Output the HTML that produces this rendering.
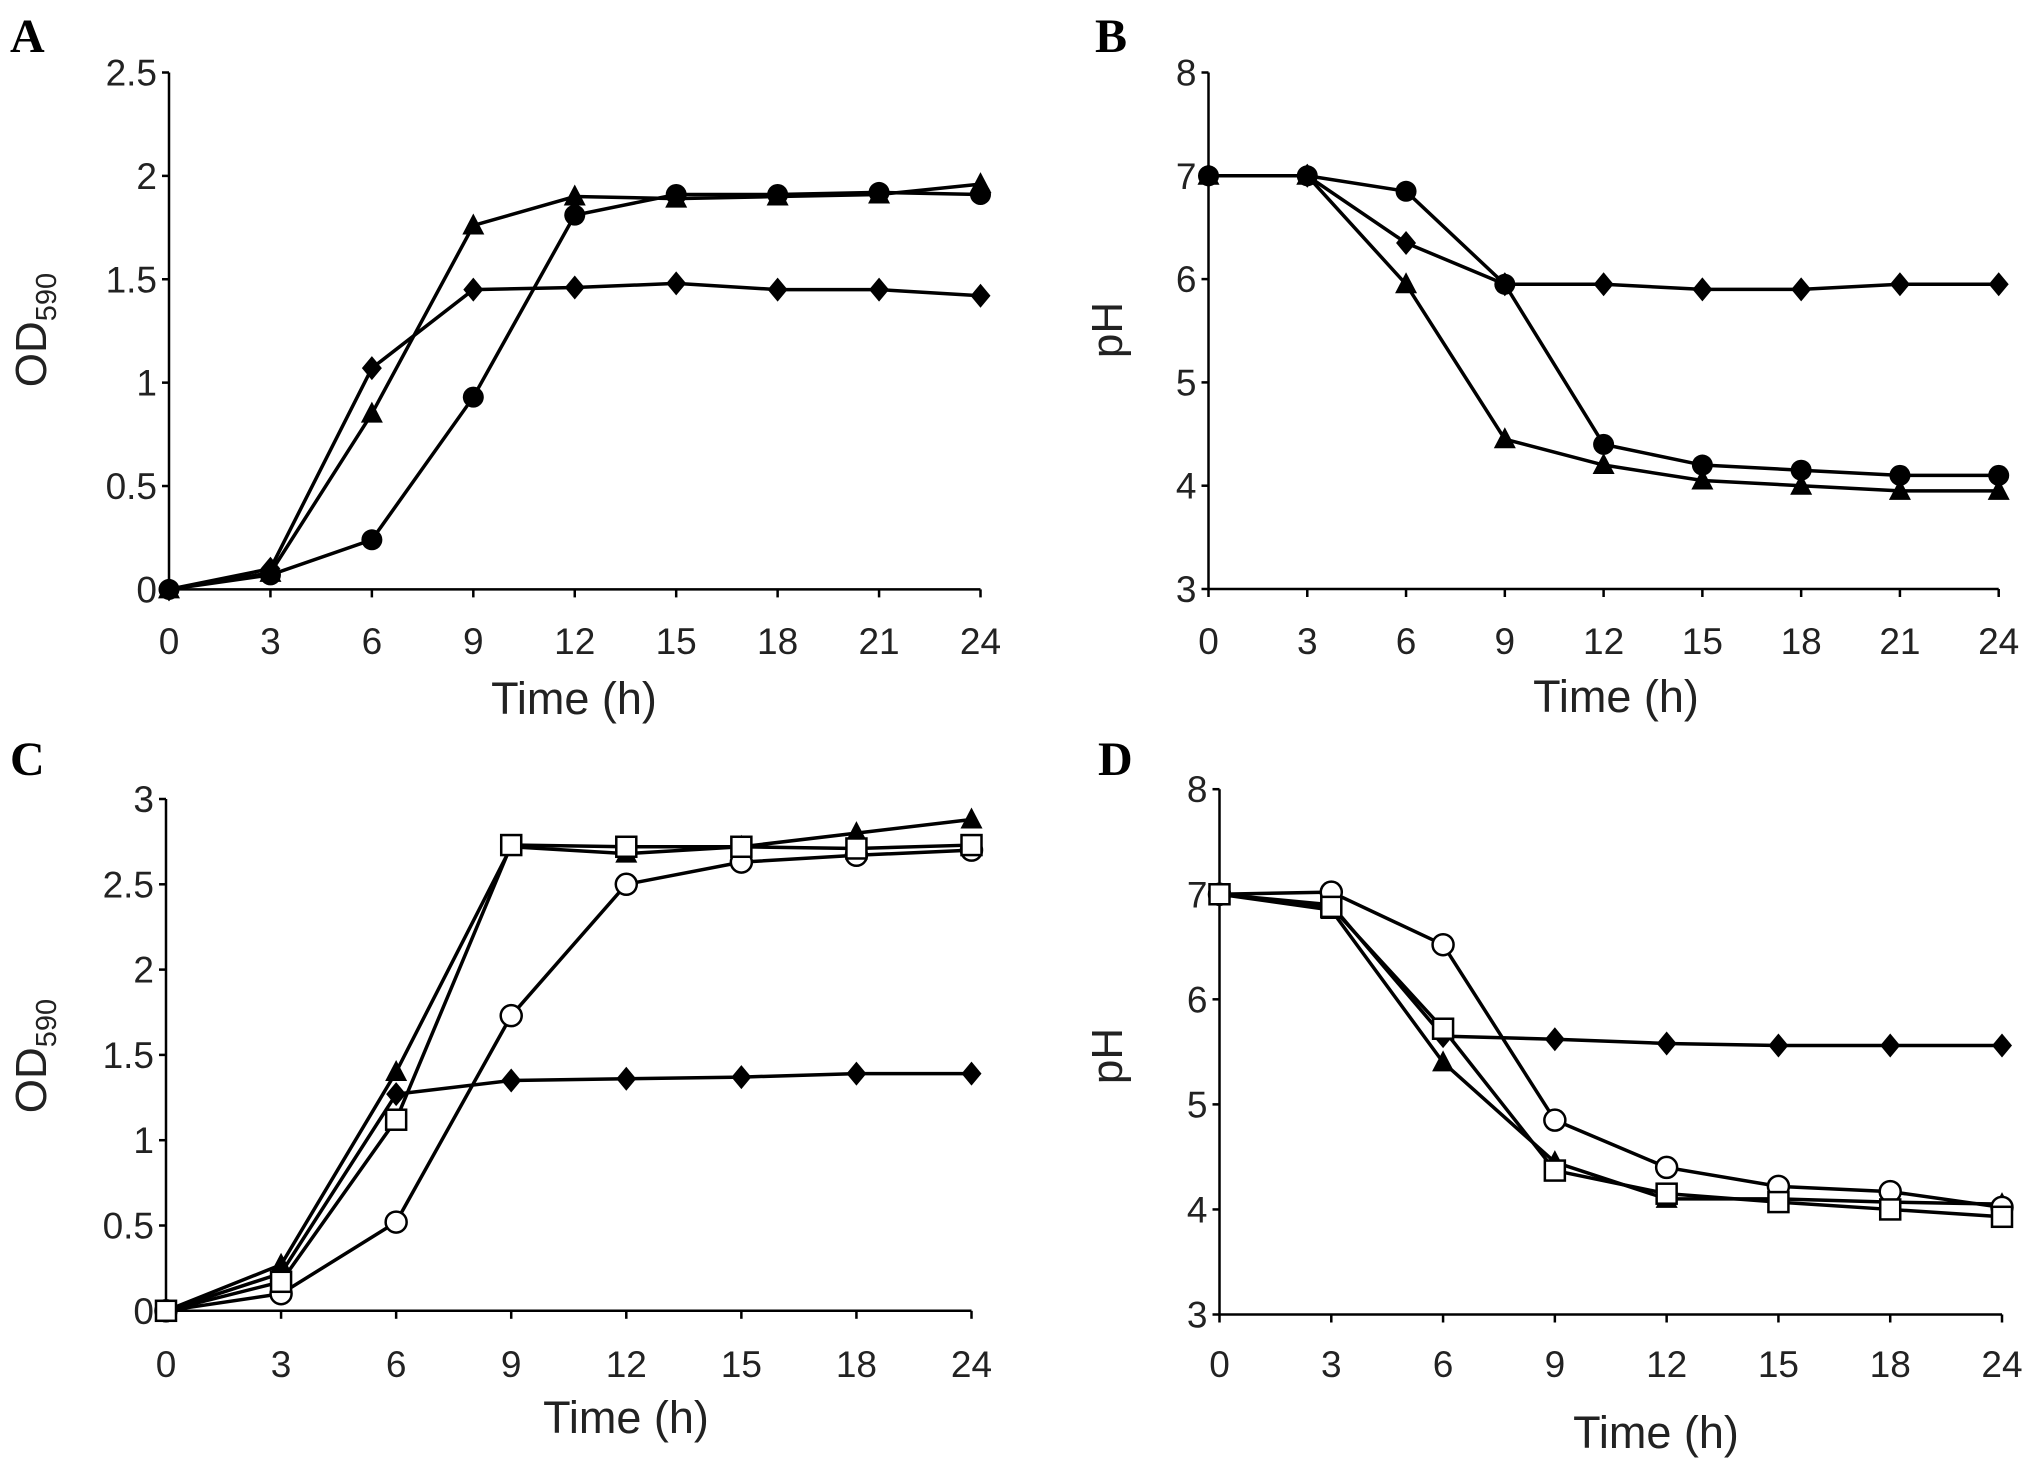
<!DOCTYPE html>
<html><head><meta charset="utf-8"><style>
body{margin:0;background:#fff}
svg{display:block;font-family:"Liberation Sans",Arial,sans-serif}
</style></head><body>
<svg id="fig" width="2031" height="1469" viewBox="0 0 2031 1469" xmlns="http://www.w3.org/2000/svg"></svg>
<script>
const aDiamond=[0,0.1,1.07,1.45,1.46,1.48,1.45,1.45,1.42];
const aTriangle=[0,0.08,0.85,1.76,1.9,1.89,1.9,1.91,1.96];
const aCircle=[0,0.07,0.24,0.93,1.81,1.91,1.91,1.92,1.91];
const bDiamond=[7,7,6.35,5.95,5.95,5.9,5.9,5.95,5.95];
const bCircle=[7,7,6.85,5.95,4.4,4.2,4.15,4.1,4.1];
const bTriangle=[7,7,5.95,4.45,4.2,4.05,4.0,3.95,3.95];
const cDiamond=[0,0.22,1.27,1.35,1.36,1.37,1.39,1.39];
const cTriangle=[0,0.27,1.4,2.72,2.68,2.72,2.8,2.88];
const cSquare=[0,0.17,1.12,2.73,2.72,2.72,2.71,2.73];
const cCircle=[0,0.1,0.52,1.73,2.5,2.63,2.67,2.7];
const dDiamond=[7,6.9,5.65,5.62,5.58,5.56,5.56,5.56];
const dCircle=[7,7.02,6.52,4.85,4.4,4.22,4.17,4.02];
const dTriangle=[7,6.85,5.4,4.45,4.1,4.1,4.07,4.05];
const dSquare=[7,6.88,5.72,4.37,4.15,4.07,4.0,3.93];
const xLabels9=["0","3","6","9","12","15","18","21","24"];
const xLabels8=["0","3","6","9","12","15","18","24"];
const odTicks25=["0","0.5","1","1.5","2","2.5"];
const odTicks3=["0","0.5","1","1.5","2","2.5","3"];
const phTicks=["3","4","5","6","7","8"];

const NS="http://www.w3.org/2000/svg";
const svg=document.getElementById('fig');
function el(tag,attrs,parent,text){const e=document.createElementNS(NS,tag);for(const k in attrs)e.setAttribute(k,attrs[k]);if(text!==undefined)e.textContent=text;(parent||svg).appendChild(e);return e;}

function panel(p){
  const g=el('g',{});
  
  
  const n=p.xl.length;
  const X=i=>p.x0+(p.x1-p.x0)*i/(n-1);
  const Y=v=>p.yb+(p.yt-p.yb)*(v-p.ymin)/(p.ymax-p.ymin);
  const lt=el('text',{x:p.lx,y:p.ly,'font-family':'"Liberation Serif",serif','font-weight':'bold','font-size':48},g,p.id);
  
  
  const ax=el('path',{d:`M${p.x0},${p.yt} V${p.yb} H${p.x1}`,stroke:'#000','stroke-width':2.5,fill:'none'},g);
  
  
  p.yl.forEach((t,i)=>{
    const v=p.ymin+(p.ymax-p.ymin)*i/(p.yl.length-1);const y=Y(v);
    el('line',{x1:p.x0-7,x2:p.x0,y1:y,y2:y,stroke:'#000','stroke-width':2.5},g);
    const tx=el('text',{x:p.x0-12,y:y+13,'text-anchor':'end','font-size':37,fill:'#222'},g,t);
    
    
  });
  p.xl.forEach((t,i)=>{
    const x=X(i);
    el('line',{x1:x,x2:x,y1:p.yb,y2:p.yb+8,stroke:'#000','stroke-width':2.5},g);
    const tx=el('text',{x:x,y:p.tly,'text-anchor':'middle','font-size':37,fill:'#222'},g,t);
    
    
  });
  const xt=el('text',{x:p.xtx,y:p.xty,'text-anchor':'middle','font-size':45,fill:'#222'},g,'Time (h)');
  
  
  const yt=el('text',{transform:`translate(${p.ytx},${p.yty}) rotate(-90)`,'text-anchor':'middle','font-size':44,fill:'#222'},g);
  
  
  if(p.od){el('tspan',{},yt,'OD');el('tspan',{'font-size':29,dy:10},yt,'590');}else yt.textContent='pH';
  p.series.forEach(s=>{
    const sg=el('g',{},g);
    
    
    el('polyline',{points:s.d.map((v,i)=>X(i)+','+Y(v)).join(' '),fill:'none',stroke:'#000','stroke-width':3.5},sg);
    s.d.forEach((v,i)=>{
      const x=X(i),y=Y(v);let m;
      if(s.m==='diamond')m=el('polygon',{points:`${x},${y-12} ${x+10},${y} ${x},${y+12} ${x-10},${y}`,fill:'#000'},sg);
      else if(s.m==='triangle')m=el('polygon',{points:`${x},${y-12} ${x+11},${y+9} ${x-11},${y+9}`,fill:'#000'},sg);
      else if(s.m==='circle')m=el('circle',{cx:x,cy:y,r:10.5,fill:'#000'},sg);
      else if(s.m==='ocircle')m=el('circle',{cx:x,cy:y,r:10.5,fill:'#fff',stroke:'#000','stroke-width':2.5},sg);
      else m=el('rect',{x:x-10,y:y-10,width:20,height:20,fill:'#fff',stroke:'#000','stroke-width':2.5},sg);
      
      
    });
  });
}
panel({id:'A',x0:169,x1:980.5,yb:589.4,yt:72.5,ymin:0,ymax:2.5,yl:odTicks25,xl:xLabels9,tly:654,xtx:574,xty:714,ytx:46,yty:330,lx:10,ly:52,od:true,
  series:[{m:'diamond',d:aDiamond},{m:'triangle',d:aTriangle},{m:'circle',d:aCircle}]});
panel({id:'B',x0:1208.5,x1:1998.7,yb:589,yt:72.5,ymin:3,ymax:8,yl:phTicks,xl:xLabels9,tly:654,xtx:1616,xty:712,ytx:1122,yty:330,lx:1095,ly:52,od:false,
  series:[{m:'diamond',d:bDiamond},{m:'circle',d:bCircle},{m:'triangle',d:bTriangle}]});
panel({id:'C',x0:166,x1:971.5,yb:1310.8,yt:799,ymin:0,ymax:3,yl:odTicks3,xl:xLabels8,tly:1377,xtx:626,xty:1433,ytx:46,yty:1056,lx:10,ly:775,od:true,
  series:[{m:'diamond',d:cDiamond},{m:'triangle',d:cTriangle},{m:'ocircle',d:cCircle},{m:'square',d:cSquare}]});
panel({id:'D',x0:1219.5,x1:2002,yb:1314.5,yt:789.2,ymin:3,ymax:8,yl:phTicks,xl:xLabels8,tly:1377,xtx:1656,xty:1448,ytx:1122,yty:1056,lx:1098,ly:775,od:false,
  series:[{m:'diamond',d:dDiamond},{m:'triangle',d:dTriangle},{m:'ocircle',d:dCircle},{m:'square',d:dSquare}]});
</script>
</body></html>
